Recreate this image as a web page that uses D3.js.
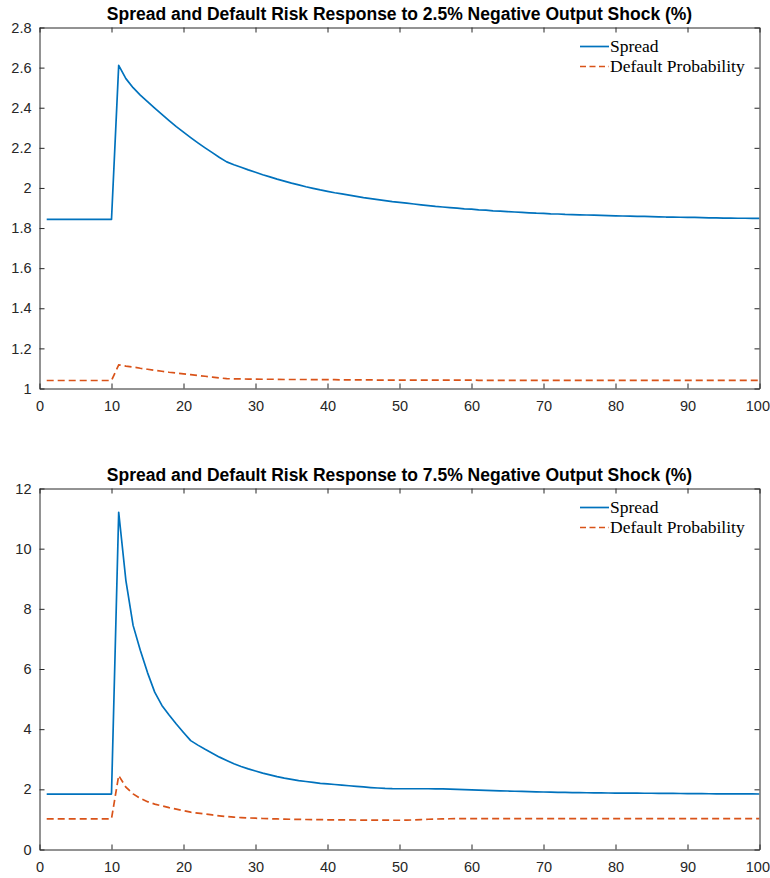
<!DOCTYPE html>
<html>
<head>
<meta charset="utf-8">
<script src="https://d3js.org/d3.v7.min.js"></script>
<style>
  html, body { margin: 0; padding: 0; background: #ffffff; }
  svg { display: block; }
</style>
</head>
<body>
<svg id="chart" width="770" height="878"></svg>
<script>
// ---------------- DATA ----------------
const periods = d3.range(1, 101);

const titleTop = "Spread and Default Risk Response to 2.5% Negative Output Shock (%)";
const titleBottom = "Spread and Default Risk Response to 7.5% Negative Output Shock (%)";
const seriesNames = ["Spread", "Default Probability"];

const xTickValues = [0, 10, 20, 30, 40, 50, 60, 70, 80, 90, 100];
const yTickValuesTop = [1, 1.2, 1.4, 1.6, 1.8, 2, 2.2, 2.4, 2.6, 2.8];
const yTickValuesBottom = [0, 2, 4, 6, 8, 10, 12];

// 2.5% shock
const spreadTop = [
  1.843, 1.843, 1.843, 1.843, 1.843, 1.843, 1.843, 1.843, 1.843, 1.843,
  2.611, 2.545, 2.500, 2.463, 2.430, 2.398, 2.367, 2.336, 2.306, 2.278,
  2.251, 2.225, 2.200, 2.176, 2.152, 2.130, 2.116, 2.103, 2.090, 2.078,
  2.066, 2.055, 2.044, 2.034, 2.024, 2.015, 2.006, 1.998, 1.990, 1.983,
  1.976, 1.970, 1.964, 1.958, 1.952, 1.947, 1.942, 1.937, 1.932, 1.928,
  1.924, 1.920, 1.916, 1.912, 1.908, 1.905, 1.902, 1.899, 1.896, 1.894,
  1.891, 1.889, 1.886, 1.884, 1.882, 1.880, 1.878, 1.876, 1.874, 1.873,
  1.871, 1.870, 1.868, 1.867, 1.866, 1.865, 1.864, 1.863, 1.862, 1.861,
  1.860, 1.859, 1.858, 1.858, 1.857, 1.856, 1.855, 1.855, 1.854, 1.853,
  1.853, 1.852, 1.851, 1.851, 1.850, 1.850, 1.849, 1.849, 1.848, 1.848
];
const defaultTop = [
  1.040, 1.040, 1.040, 1.040, 1.040, 1.040, 1.040, 1.040, 1.040, 1.040,
  1.118, 1.112, 1.107, 1.101, 1.096, 1.091, 1.086, 1.081, 1.077, 1.073,
  1.069, 1.065, 1.061, 1.057, 1.053, 1.049, 1.048, 1.048, 1.047, 1.047,
  1.046, 1.046, 1.046, 1.045, 1.045, 1.045, 1.045, 1.044, 1.044, 1.044,
  1.044, 1.043, 1.043, 1.043, 1.043, 1.043, 1.042, 1.042, 1.042, 1.042,
  1.042, 1.042, 1.042, 1.042, 1.042, 1.042, 1.042, 1.042, 1.042, 1.042,
  1.041, 1.041, 1.041, 1.041, 1.041, 1.041, 1.041, 1.041, 1.041, 1.041,
  1.041, 1.041, 1.041, 1.041, 1.041, 1.041, 1.041, 1.041, 1.041, 1.041,
  1.041, 1.041, 1.041, 1.041, 1.041, 1.041, 1.041, 1.041, 1.041, 1.041,
  1.041, 1.041, 1.041, 1.041, 1.041, 1.041, 1.041, 1.041, 1.041, 1.041
];

// 7.5% shock
const spreadBottom = [
  1.843, 1.843, 1.843, 1.843, 1.843, 1.843, 1.843, 1.843, 1.843, 1.843,
  11.21, 8.94, 7.45, 6.62, 5.88, 5.23, 4.79, 4.47, 4.17, 3.89,
  3.62, 3.47, 3.33, 3.20, 3.07, 2.96, 2.85, 2.76, 2.68, 2.61,
  2.54, 2.48, 2.42, 2.37, 2.33, 2.29, 2.26, 2.23, 2.20, 2.18,
  2.16, 2.14, 2.12, 2.10, 2.08, 2.06, 2.045, 2.03, 2.022, 2.02,
  2.02, 2.02, 2.02, 2.02, 2.018, 2.015, 2.006, 1.998, 1.990, 1.982,
  1.974, 1.966, 1.958, 1.951, 1.944, 1.937, 1.930, 1.924, 1.918, 1.912,
  1.906, 1.901, 1.897, 1.893, 1.889, 1.886, 1.883, 1.880, 1.878, 1.876,
  1.874, 1.872, 1.871, 1.870, 1.869, 1.868, 1.866, 1.864, 1.862, 1.860,
  1.858, 1.856, 1.854, 1.852, 1.850, 1.849, 1.848, 1.847, 1.846, 1.845
];
const defaultBottom = [
  1.02, 1.02, 1.02, 1.02, 1.02, 1.02, 1.02, 1.02, 1.02, 1.02,
  2.46, 2.07, 1.85, 1.70, 1.59, 1.51, 1.45, 1.39, 1.34, 1.29,
  1.24, 1.21, 1.18, 1.15, 1.12, 1.095, 1.075, 1.06, 1.05, 1.04,
  1.03, 1.022, 1.015, 1.01, 1.005, 1.00, 0.997, 0.994, 0.991, 0.988,
  0.986, 0.984, 0.982, 0.980, 0.978, 0.976, 0.975, 0.974, 0.973, 0.972,
  0.975, 0.985, 0.995, 1.005, 1.012, 1.018, 1.022, 1.025, 1.027, 1.028,
  1.028, 1.028, 1.028, 1.028, 1.028, 1.028, 1.028, 1.028, 1.028, 1.028,
  1.028, 1.028, 1.028, 1.028, 1.028, 1.028, 1.028, 1.028, 1.028, 1.028,
  1.028, 1.028, 1.028, 1.028, 1.028, 1.028, 1.028, 1.028, 1.028, 1.028,
  1.028, 1.028, 1.028, 1.028, 1.028, 1.028, 1.028, 1.028, 1.028, 1.028
];

// ---------------- STYLE ----------------
const colors = ["#0072BD", "#D95319"];
const axisColor = "#262626";
const tickFont = "Liberation Sans, Arial, Helvetica, sans-serif";
const legendFont = "Liberation Serif, Times New Roman, serif";

const svg = d3.select("#chart");

function drawPanel(cfg) {
  const g = svg.append("g");
  const x = d3.scaleLinear().domain([0, 100]).range([cfg.left, cfg.right]);
  const y = d3.scaleLinear().domain(cfg.yDomain).range([cfg.bottom, cfg.top]);

  // lines
  const line = d3.line().x((d, i) => x(periods[i])).y(d => y(d));
  const clipId = "clip" + cfg.id;
  svg.append("clipPath").attr("id", clipId).append("rect")
    .attr("x", cfg.left).attr("y", cfg.top)
    .attr("width", cfg.right - cfg.left).attr("height", cfg.bottom - cfg.top);

  g.append("path").datum(cfg.spread)
    .attr("clip-path", `url(#${clipId})`)
    .attr("fill", "none").attr("stroke", colors[0])
    .attr("stroke-width", 1.7).attr("stroke-linejoin", "round")
    .attr("d", line);
  g.append("path").datum(cfg.def)
    .attr("clip-path", `url(#${clipId})`)
    .attr("fill", "none").attr("stroke", colors[1])
    .attr("stroke-width", 1.7).attr("stroke-dasharray", "7,4")
    .attr("d", line);

  const fmt = d3.format("~g");
  // axes
  const xb = g.append("g").attr("transform", `translate(0,${cfg.bottom})`)
    .call(d3.axisBottom(x).tickValues(xTickValues).tickFormat(fmt).tickSizeInner(-5).tickSizeOuter(0).tickPadding(12));
  const xt = g.append("g").attr("transform", `translate(0,${cfg.top})`)
    .call(d3.axisTop(x).tickValues(xTickValues).tickFormat("").tickSizeInner(-5).tickSizeOuter(0));
  const yl = g.append("g").attr("transform", `translate(${cfg.left},0)`)
    .call(d3.axisLeft(y).tickValues(cfg.yTicks).tickFormat(fmt).tickSizeInner(-5).tickSizeOuter(0).tickPadding(8));
  const yr = g.append("g").attr("transform", `translate(${cfg.right},0)`)
    .call(d3.axisRight(y).tickValues(cfg.yTicks).tickFormat("").tickSizeInner(-5).tickSizeOuter(0));

  [xb, xt, yl, yr].forEach(a => {
    a.select(".domain").attr("stroke", axisColor).attr("stroke-width", 1);
    a.selectAll(".tick line").attr("stroke", axisColor).attr("stroke-width", 1);
    a.selectAll(".tick text").attr("fill", axisColor)
      .style("font-family", tickFont).style("font-size", "14.5px");
  });
  // keep the last x label inside the window
  xb.selectAll(".tick text").filter(d => d === 100)
    .attr("text-anchor", "end").attr("x", 10);

  // title
  g.append("text")
    .attr("x", (cfg.left + cfg.right) / 2).attr("y", cfg.top - 7.5)
    .attr("text-anchor", "middle")
    .style("font-family", tickFont).style("font-size", "17.5px").style("font-weight", "bold")
    .attr("fill", "#000000")
    .text(cfg.title);

  // legend
  const leg = g.append("g");
  seriesNames.forEach((name, i) => {
    const ly = cfg.top + 19 + i * 20;
    leg.append("line")
      .attr("x1", 580).attr("x2", 609).attr("y1", ly).attr("y2", ly)
      .attr("stroke", colors[i]).attr("stroke-width", 1.7)
      .attr("stroke-dasharray", i === 1 ? "6,3.5" : null);
    leg.append("text")
      .attr("x", 610).attr("y", ly + 5.5)
      .style("font-family", legendFont).style("font-size", "17.5px")
      .attr("fill", "#000000")
      .text(name);
  });
}

drawPanel({
  id: "top", left: 39.5, right: 759.5, top: 27.5, bottom: 388.5,
  yDomain: [1, 2.8], yTicks: yTickValuesTop,
  spread: spreadTop, def: defaultTop, title: titleTop
});
drawPanel({
  id: "bottom", left: 39.5, right: 759.5, top: 488.5, bottom: 849.5,
  yDomain: [0, 12], yTicks: yTickValuesBottom,
  spread: spreadBottom, def: defaultBottom, title: titleBottom
});
</script>
</body>
</html>
